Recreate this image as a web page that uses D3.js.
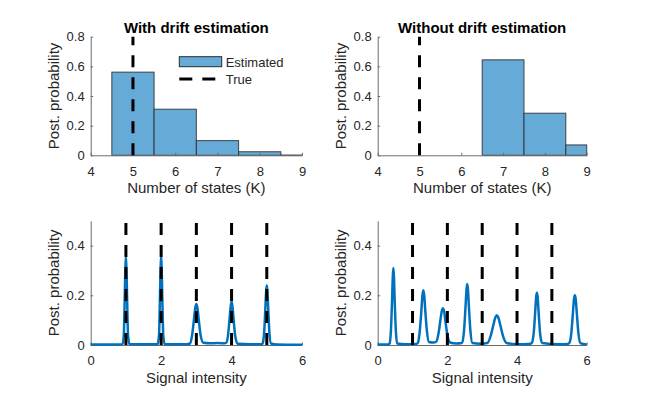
<!DOCTYPE html>
<html>
<head>
<meta charset="utf-8">
<script src="https://cdn.jsdelivr.net/npm/d3@7"></script>
<style>
  body { margin: 0; background: #fff; }
  svg { display: block; }
  text { font-family: "Liberation Sans", Arial, Helvetica, sans-serif; }
</style>
</head>
<body>
<svg id="chart" width="650" height="400"></svg>
<script>
// ---------- data ----------
const panelTitles = ["With drift estimation", "Without drift estimation"];
const kWith = [5, 6, 7, 8, 9];
const postWith = [0.561, 0.311, 0.099, 0.024, 0.002];
const kWithout = [7, 8, 9];
const postWithout = [0.644, 0.284, 0.07];
const trueK = 5;
const trueIntensities = [1, 2, 3, 4, 5];
const kTicks = [4, 5, 6, 7, 8, 9];
const probTicksTop = [0, 0.2, 0.4, 0.6, 0.8];
const intensityTicks = [0, 2, 4, 6];
const probTicksBottom = [0, 0.2, 0.4];
const legendLabels = ["Estimated", "True"];

// posterior over signal intensity as [intensity, probability]
const intensityWith = [
  [0, 0.002], [0.85, 0.002],
  [0.90, 0.004], [0.94, 0.04], [0.965, 0.18], [0.985, 0.31], [1.0, 0.355], [1.015, 0.31], [1.035, 0.18], [1.06, 0.04], [1.10, 0.004],
  [1.5, 0.003], [1.85, 0.003],
  [1.90, 0.004], [1.94, 0.04], [1.965, 0.18], [1.985, 0.31], [2.0, 0.36], [2.015, 0.31], [2.035, 0.18], [2.06, 0.04], [2.10, 0.004],
  [2.4, 0.003], [2.72, 0.003],
  [2.82, 0.006], [2.88, 0.04], [2.93, 0.10], [2.97, 0.15], [3.0, 0.165], [3.03, 0.15], [3.07, 0.10], [3.12, 0.04], [3.2, 0.009],
  [3.4, 0.007], [3.6, 0.008], [3.8, 0.007],
  [3.85, 0.009], [3.9, 0.04], [3.94, 0.10], [3.975, 0.155], [4.0, 0.175], [4.025, 0.155], [4.06, 0.10], [4.1, 0.04], [4.17, 0.005],
  [4.5, 0.003], [4.85, 0.003],
  [4.88, 0.006], [4.93, 0.06], [4.96, 0.15], [4.985, 0.22], [5.0, 0.24], [5.015, 0.22], [5.04, 0.15], [5.07, 0.06], [5.12, 0.006],
  [5.3, 0.002], [6.0, 0.001]
];
const intensityWithout = [
  [0, 0.002], [0.3, 0.002],
  [0.34, 0.006], [0.38, 0.06], [0.41, 0.17], [0.435, 0.28], [0.45, 0.31], [0.465, 0.28], [0.49, 0.17], [0.52, 0.06], [0.56, 0.006],
  [0.8, 0.003], [1.1, 0.004],
  [1.15, 0.008], [1.21, 0.06], [1.25, 0.13], [1.285, 0.20], [1.31, 0.22], [1.335, 0.20], [1.37, 0.13], [1.41, 0.06], [1.47, 0.012],
  [1.6, 0.01],
  [1.68, 0.013], [1.75, 0.05], [1.80, 0.10], [1.845, 0.14], [1.87, 0.148], [1.9, 0.14], [1.95, 0.09], [2.0, 0.04], [2.08, 0.01],
  [2.25, 0.006],
  [2.42, 0.008], [2.48, 0.06], [2.52, 0.15], [2.55, 0.225], [2.57, 0.246], [2.59, 0.225], [2.62, 0.15], [2.66, 0.06], [2.72, 0.008],
  [2.95, 0.005],
  [3.15, 0.008], [3.25, 0.04], [3.32, 0.08], [3.38, 0.112], [3.42, 0.12], [3.46, 0.112], [3.52, 0.08], [3.59, 0.04], [3.70, 0.008],
  [4.0, 0.003], [4.35, 0.004],
  [4.42, 0.008], [4.48, 0.05], [4.52, 0.13], [4.55, 0.195], [4.57, 0.21], [4.59, 0.195], [4.62, 0.13], [4.66, 0.05], [4.72, 0.008],
  [5.2, 0.003], [5.45, 0.004],
  [5.5, 0.008], [5.56, 0.05], [5.6, 0.12], [5.635, 0.185], [5.66, 0.2], [5.685, 0.185], [5.72, 0.12], [5.76, 0.05], [5.82, 0.008],
  [6.0, 0.002]
];

// ---------- layout ----------
const svg = d3.select("#chart");
const barFill = "#66aad7";
const lineBlue = "#0072bd";
const axisCol = "#262626";
const colsX = [[90.7, 302], [377.7, 586.7]];
const topY = [155.3, 36.7];
const botY = [345, 220.8];
const fmt = d => d === 0 ? "0" : String(d);

function drawAxes(g, x, y, xTicks, yTicks, xLabel) {
  const [x0, x1] = x.range();
  const [y0, y1] = y.range();
  const xa = g.append("g").attr("transform", `translate(0,${y0})`)
    .call(d3.axisBottom(x).tickValues(xTicks).tickFormat(fmt).tickSizeInner(-2.5).tickSizeOuter(0).tickPadding(11));
  const ya = g.append("g").attr("transform", `translate(${x0},0)`)
    .call(d3.axisLeft(y).tickValues(yTicks).tickFormat(fmt).tickSizeInner(-2.5).tickSizeOuter(0).tickPadding(6));
  [xa, ya].forEach(a => {
    a.select(".domain").attr("stroke", "#6b6b6b").attr("stroke-width", 1);
    a.selectAll(".tick line").attr("stroke", "#6b6b6b");
    a.selectAll(".tick text").attr("fill", axisCol).style("font-size", "13px")
      .style("font-family", "'Liberation Sans', Arial, sans-serif");
  });
  g.append("text").attr("x", (x0 + x1) / 2).attr("y", y0 + 38)
    .attr("text-anchor", "middle").attr("fill", axisCol).style("font-size", "15px").text(xLabel);
  g.append("text").attr("transform", `translate(${x0 - 32},${(y0 + y1) / 2}) rotate(-90)`)
    .attr("text-anchor", "middle").attr("fill", axisCol).style("font-size", "15px").text("Post. probability");
}

function dashedV(g, x, y, xv) {
  g.append("line").attr("x1", x(xv)).attr("x2", x(xv))
    .attr("y1", y.range()[0]).attr("y2", y.range()[1])
    .attr("stroke", "#000").attr("stroke-width", 3).attr("stroke-dasharray", "12,10");
}

// ---------- top panels (histograms) ----------
const histData = [[kWith, postWith], [kWithout, postWithout]];
histData.forEach(([ks, ps], i) => {
  const g = svg.append("g");
  const x = d3.scaleLinear().domain([4, 9]).range(colsX[i]).clamp(true);
  const y = d3.scaleLinear().domain([0, 0.8]).range(topY);
  g.selectAll("rect.bar").data(ks.map((k, j) => ({ k, p: ps[j] })))
    .join("rect").attr("class", "bar")
    .attr("x", d => x(d.k - 0.5))
    .attr("width", d => x(d.k + 0.5) - x(d.k - 0.5))
    .attr("y", d => y(d.p))
    .attr("height", d => y(0) - y(d.p))
    .attr("fill", barFill).attr("stroke", "#2a2a2a").attr("stroke-opacity", 0.85).attr("stroke-width", 1);
  drawAxes(g, x, y, kTicks, probTicksTop, "Number of states (K)");
  dashedV(g, x, y, trueK);
  g.append("text").attr("x", (colsX[i][0] + colsX[i][1]) / 2).attr("y", 32.5)
    .attr("text-anchor", "middle").attr("fill", "#000").style("font-size", "15px").style("font-weight", "bold")
    .text(panelTitles[i]);
  if (i === 0) {
    const lg = g.append("g");
    lg.append("rect").attr("x", 179.3).attr("y", 56.7).attr("width", 42.4).attr("height", 10)
      .attr("fill", barFill).attr("stroke", "#2a2a2a").attr("stroke-width", 1);
    lg.append("text").attr("x", 225.7).attr("y", 66.5).attr("fill", axisCol).style("font-size", "13px").text(legendLabels[0]);
    lg.append("line").attr("x1", 179.3).attr("x2", 221.7).attr("y1", 79).attr("y2", 79)
      .attr("stroke", "#000").attr("stroke-width", 3).attr("stroke-dasharray", "13,10");
    lg.append("text").attr("x", 225.7).attr("y", 83.5).attr("fill", axisCol).style("font-size", "13px").text(legendLabels[1]);
  }
});

// ---------- bottom panels (intensity posteriors) ----------
[intensityWith, intensityWithout].forEach((pts, i) => {
  const g = svg.append("g");
  const x = d3.scaleLinear().domain([0, 6]).range(colsX[i]);
  const y = d3.scaleLinear().domain([0, 0.5]).range(botY);
  drawAxes(g, x, y, intensityTicks, probTicksBottom, "Signal intensity");
  const line = d3.line().x(d => x(d[0])).y(d => y(d[1])).curve(d3.curveMonotoneX);
  g.append("path").datum(pts).attr("d", line)
    .attr("fill", "none").attr("stroke", lineBlue).attr("stroke-width", 2.5).attr("stroke-linejoin", "round");
  trueIntensities.forEach(v => dashedV(g, x, y, v));
});
</script>
</body>
</html>
